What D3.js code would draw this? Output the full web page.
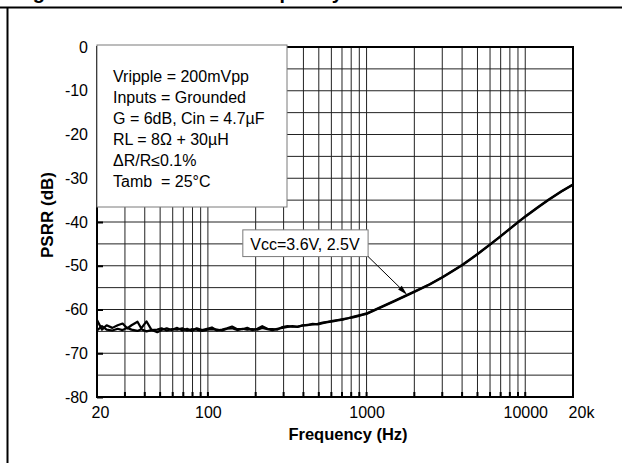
<!DOCTYPE html>
<html>
<head>
<meta charset="utf-8">
<script src="https://cdn.jsdelivr.net/npm/d3@7"></script>
<style>
  html, body { margin: 0; padding: 0; background: #fff; }
  svg { display: block; }
  text { font-family: "Liberation Sans", Arial, Helvetica, sans-serif; fill: #000; }
</style>
</head>
<body>
<svg id="chart" width="622" height="463"></svg>
<script>
// Measurement frequencies (Hz)
const freqHz = [20, 21.5, 23, 25, 27, 29, 31, 33, 36, 38, 41, 44, 48, 51, 55, 59, 64, 69, 74, 79,
  85, 92, 99, 106, 114, 123, 132, 142, 153, 165, 177, 190, 205, 220, 237, 255, 274, 295, 317, 341,
  367, 395, 425, 457, 492, 529, 569, 612, 659, 709, 763, 821, 883, 950, 1000, 1200, 1500, 2000, 2500, 3000,
  3500, 4000, 4500, 5000, 6000, 7000, 8000, 9000, 10000, 12000, 14000, 17000, 20000];

// PSRR (dB) at Vcc = 3.6 V
const psrrVcc36 = [-62.4, -64.6, -63.6, -64.2, -63.6, -63.2, -64.3, -63.6, -62.8, -64.3, -62.7, -64.6, -65.2, -64.7, -64.3, -64.7, -64.2, -64.8, -64.4, -64.9,
  -64.3, -64.7, -64.4, -64.1, -64.8, -64.6, -64.3, -63.9, -64.5, -64.5, -64.2, -64.7, -64.4, -63.8, -64.4, -64.5, -64.6, -64.0, -63.8, -63.9,
  -63.9, -63.7, -63.5, -63.4, -63.3, -63.0, -62.8, -62.6, -62.4, -62.2, -62.0, -61.7, -61.4, -61.1, -60.9, -59.6, -58.0, -55.9, -54.2, -52.6,
  -51.1, -49.8, -48.5, -47.3, -45.1, -43.2, -41.5, -40.0, -38.7, -36.6, -34.9, -32.9, -31.4];

// PSRR (dB) at Vcc = 2.5 V
const psrrVcc25 = [-64.8, -63.8, -64.6, -64.8, -64.4, -64.7, -64.2, -64.6, -64.9, -64.5, -65.0, -64.7, -64.6, -64.3, -64.8, -64.5, -64.6, -64.3, -64.8, -64.5,
  -64.6, -64.9, -64.6, -64.5, -64.6, -64.8, -64.4, -64.3, -64.7, -64.4, -64.6, -64.5, -64.6, -64.2, -64.5, -64.7, -64.4, -64.2, -64.0, -63.8,
  -64.0, -63.6, -63.6, -63.3, -63.4, -63.1, -62.9, -62.7, -62.5, -62.3, -62.0, -61.8, -61.5, -61.2, -61.0, -59.7, -58.1, -56.0, -54.3, -52.7,
  -51.2, -49.9, -48.6, -47.4, -45.2, -43.3, -41.6, -40.1, -38.8, -36.7, -35.0, -33.0, -31.5];

// Axis ticks and grid
const xTickValues = [20, 100, 1000, 10000, 20000];
const xTickLabels = ["20", "100", "1000", "10000", "20k"];
const xGridValues = [30, 40, 50, 60, 70, 80, 90, 100, 200, 300, 400, 500, 600, 700, 800, 900,
  1000, 2000, 3000, 4000, 5000, 6000, 7000, 8000, 9000, 10000];
const yTickValues = [0, -10, -20, -30, -40, -50, -60, -70, -80];
const yGridValues = [-5, -10, -15, -20, -25, -30, -35, -40, -45, -50, -55, -60, -65, -70, -75];

// Test conditions and curve annotation
const conditionLines = ["Vripple = 200mVpp", "Inputs = Grounded", "G = 6dB, Cin = 4.7\u00B5F",
  "RL = 8\u03A9 + 30\u00B5H", "\u0394R/R\u22640.1%", "Tamb  = 25\u00B0C"];
const curveLabel = "Vcc=3.6V, 2.5V";
const curveLabelAnchor = { freq: 166, db: -41.8 };
const curveArrowTip = { freq: 1800, db: -56.6 };

const svg = d3.select("#chart");
const W = 622, H = 463;
const margin = { left: 97, right: 49, top: 47, bottom: 66 };
const plotW = W - margin.left - margin.right;
const plotH = H - margin.top - margin.bottom;

// Page frame and title
svg.append("text")
  .attr("x", 15).attr("y", -1.5)
  .style("font-size", "20px").style("font-weight", "bold")
  .text("Figure 12: PSRR versus frequency");
svg.append("path")
  .attr("d", `M0,7.5H${W}M7.5,7.5V${H}`)
  .attr("fill", "none").attr("stroke", "#000").attr("stroke-width", 2);

const x = d3.scaleLog().domain([20, 20000]).range([0, plotW]);
const y = d3.scaleLinear().domain([-80, 0]).range([plotH, 0]);

const g = svg.append("g").attr("transform", `translate(${margin.left},${margin.top})`);

// Grid
g.append("g").selectAll("line").data(xGridValues).join("line")
  .attr("x1", d => x(d)).attr("x2", d => x(d))
  .attr("y1", 0).attr("y2", plotH)
  .attr("stroke", "#222").attr("stroke-width", 1);
g.append("g").selectAll("line").data(yGridValues).join("line")
  .attr("x1", 0).attr("x2", plotW)
  .attr("y1", d => y(d)).attr("y2", d => y(d))
  .attr("stroke", "#222").attr("stroke-width", 1);

// Inward minor ticks along the bottom edge
g.append("g").selectAll("line").data(xGridValues).join("line")
  .attr("x1", d => x(d)).attr("x2", d => x(d))
  .attr("y1", plotH).attr("y2", plotH - 5)
  .attr("stroke", "#000").attr("stroke-width", 2);

// Axes
const yAxis = d3.axisLeft(y).tickValues(yTickValues).tickSize(-6).tickPadding(9)
  .tickFormat(d => String(d));
const gy = g.append("g").call(yAxis);
gy.select(".domain").remove();
gy.selectAll(".tick line").attr("stroke", "#000").attr("stroke-width", 2);
gy.selectAll(".tick text").style("font-size", "16px").style("font-family", null);

const xAxis = d3.axisBottom(x).tickValues(xTickValues).tickSize(0).tickPadding(10)
  .tickFormat((d, i) => xTickLabels[i]);
const gx = g.append("g").attr("transform", `translate(0,${plotH})`).call(xAxis);
gx.select(".domain").remove();
gx.selectAll(".tick text").style("font-size", "16px").style("font-family", null)
  .attr("dx", d => d === 20 ? 3 : d === 20000 ? 8 : 0);

// Curves
const line = d3.line().x(d => x(d[0])).y(d => y(d[1]));
[psrrVcc36, psrrVcc25].forEach(series => {
  g.append("path")
    .datum(freqHz.map((f, i) => [f, series[i]]))
    .attr("d", line)
    .attr("fill", "none").attr("stroke", "#000")
    .attr("stroke-width", 2.2).attr("stroke-linejoin", "round");
});

// Plot frame
g.append("rect").attr("x", 0).attr("y", 0).attr("width", plotW).attr("height", plotH)
  .attr("fill", "none").attr("stroke", "#000").attr("stroke-width", 2);

// Conditions box
const condBox = g.append("g");
condBox.append("rect")
  .attr("x", 0).attr("y", -2).attr("width", 190).attr("height", 162)
  .attr("fill", "#fff").attr("stroke", "#7a7a7a").attr("stroke-width", 1);
condBox.selectAll("text").data(conditionLines).join("text")
  .attr("x", 16).attr("y", (d, i) => 35 + i * 20.9)
  .style("font-size", "16px").style("white-space", "pre")
  .text(d => d);

// Curve label with arrow
const lx = x(curveLabelAnchor.freq), ly = y(curveLabelAnchor.db);
const lbl = g.append("g");
const lblText = lbl.append("text")
  .attr("x", lx + 7.5).attr("y", ly + 20)
  .style("font-size", "16px").text(curveLabel);
const tw = lblText.node().getComputedTextLength();
const bw = tw + 16, bh = 26.7;
lbl.insert("rect", "text")
  .attr("x", lx).attr("y", ly).attr("width", bw).attr("height", bh)
  .attr("fill", "#fff").attr("stroke", "#7a7a7a").attr("stroke-width", 1);

const ax0 = lx + bw, ay0 = ly + bh;
const ax1 = x(curveArrowTip.freq), ay1 = y(curveArrowTip.db);
const ang = Math.atan2(ay1 - ay0, ax1 - ax0);
const headLen = 10, headHalf = 2.6;
const bx = ax1 - headLen * Math.cos(ang), by = ay1 - headLen * Math.sin(ang);
lbl.append("line")
  .attr("x1", ax0).attr("y1", ay0).attr("x2", bx).attr("y2", by)
  .attr("stroke", "#000").attr("stroke-width", 1);
lbl.append("path")
  .attr("d", `M${ax1},${ay1}L${bx - headHalf * Math.sin(ang)},${by + headHalf * Math.cos(ang)}L${bx + headHalf * Math.sin(ang)},${by - headHalf * Math.cos(ang)}Z`)
  .attr("fill", "#000");

// Axis titles
svg.append("text")
  .attr("transform", `translate(53,215) rotate(-90)`)
  .attr("text-anchor", "middle")
  .style("font-size", "17px").style("font-weight", "bold")
  .text("PSRR (dB)");
svg.append("text")
  .attr("x", 348).attr("y", 440)
  .attr("text-anchor", "middle")
  .style("font-size", "16.5px").style("font-weight", "bold")
  .text("Frequency (Hz)");
</script>
</body>
</html>
